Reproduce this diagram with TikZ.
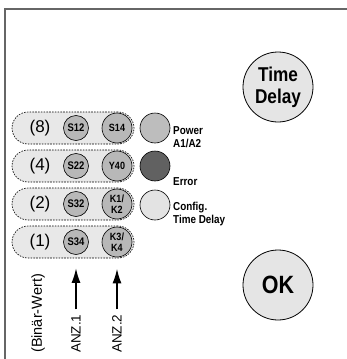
\documentclass[tikz,border=0pt]{standalone}
\usepackage{fontspec}
\setmainfont{Liberation Sans}
\newfontfamily\condbf[FakeStretch=0.86]{Liberation Sans Bold}
\usetikzlibrary{arrows.meta}

\begin{document}
\begin{tikzpicture}[x=1pt,y=-1pt,
  frame/.style={draw=black!60,line width=1.3pt},
  pill/.style={draw,fill=black!9,line width=0.6pt,dash pattern=on 1.6pt off 1.2pt,
    minimum width=122pt,minimum height=32pt,rounded corners=16pt},
  term/.style={circle,draw,line width=0.6pt,fill=black!28,inner sep=0pt,
    font=\condbf\fontsize{11}{11}\selectfont,align=center},
  led/.style={circle,draw,line width=0.6pt,minimum size=30pt,inner sep=0pt},
  ledlbl/.style={anchor=west,inner sep=0pt,align=left,
    font=\condbf\fontsize{11.5}{12.5}\selectfont},
  btn/.style={circle,draw,line width=0.8pt,fill=black!10,minimum size=70pt,
    inner sep=0pt,align=center},
  anz/.style={line width=2pt,-{Latex[length=15pt,width=9pt]}}]
  \useasboundingbox (0,0) rectangle (347,359);
  \draw[frame] (5,359) -- (5,9) -- (347,9);
  % binary rows
  \foreach \i/\val/\yy/\sa/\sb in {1/(8)/128/S12/S14,2/(4)/166/S22/Y40,
    3/(2)/204/S32/{K1/\\K2},4/(1)/242/S34/{K3/\\K4}}{
    \node[pill] (row\i) at (73,\yy) {};
    \node[font=\fontsize{17}{17}\selectfont] (val\i) at (40,\yy) {\val};
    \node[term,minimum size=25pt] (sa\i) at (76,\yy) {\sa};
    \node[term,minimum size=30pt,font=\condbf\fontsize{10.5}{11}\selectfont]
      (sb\i) at (117,\yy) {\sb};
  }
  % LEDs
  \node[led,fill=black!26] (pwr) at (155,128) {};
  \node[led,fill=black!62] (err) at (155,166) {};
  \node[led,fill=black!11] (cfg) at (155,205) {};
  \node[ledlbl] (pwrlbl) at (173,137) {Power\\A1/A2};
  \node[ledlbl] (errlbl) at (173,182) {Error};
  \node[ledlbl] (cfglbl) at (173,214) {Config.\\Time Delay};
  % buttons
  \node[btn,font=\condbf\fontsize{20}{22}\selectfont] (td) at (278,87)
    {Time\\Delay};
  \node[btn,font=\condbf\fontsize{25}{25}\selectfont] (ok) at (278,285) {OK};
  % bottom labels
  \node[rotate=90,anchor=west,inner sep=0pt,font=\fontsize{14.5}{14.5}\selectfont]
    (bin) at (38,353) {(Binär-Wert)};
  \node[rotate=90,anchor=west,inner sep=0pt,font=\fontsize{13.5}{13.5}\selectfont]
    (anz1) at (76,353) {ANZ.1};
  \node[rotate=90,anchor=west,inner sep=0pt,font=\fontsize{13.5}{13.5}\selectfont]
    (anz2) at (117,353) {ANZ.2};
  \draw[anz,shorten <=5pt,shorten >=13pt] (anz1.east) -- (sa4.south);
  \draw[anz,shorten <=5pt,shorten >=11pt] (anz2.east) -- (sb4.south);
\end{tikzpicture}
\end{document}
